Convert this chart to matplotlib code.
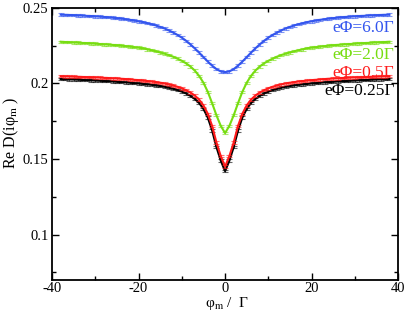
import matplotlib
matplotlib.use("Agg")
import matplotlib.pyplot as plt
from matplotlib.ticker import MultipleLocator

plt.rcParams['font.family'] = ['Liberation Serif', 'DejaVu Serif']
plt.rcParams['mathtext.fontset'] = 'stix'
plt.rcParams['axes.unicode_minus'] = False

x = list(range(-38, 39))

blue = [0.2455, 0.2454, 0.2453, 0.2452, 0.2450, 0.2449, 0.2447, 0.2446, 0.2444, 0.2442,
        0.2440, 0.2438, 0.2435, 0.2432, 0.2429, 0.2425, 0.2421, 0.2416, 0.2411, 0.2406,
        0.2399, 0.2392, 0.2384, 0.2374, 0.2364, 0.2351, 0.2337, 0.2321, 0.2303, 0.2282,
        0.2258, 0.2232, 0.2204, 0.2174, 0.2145, 0.2118, 0.2095, 0.2080, 0.2075,
        0.2080, 0.2095, 0.2118, 0.2145, 0.2174, 0.2204, 0.2232, 0.2258, 0.2282, 0.2303,
        0.2321, 0.2337, 0.2351, 0.2364, 0.2374, 0.2384, 0.2392, 0.2399, 0.2406, 0.2411,
        0.2416, 0.2421, 0.2425, 0.2429, 0.2432, 0.2435, 0.2438, 0.2440, 0.2442, 0.2444,
        0.2446, 0.2447, 0.2449, 0.2450, 0.2452, 0.2453, 0.2454, 0.2455]

green = [0.2276, 0.2274, 0.2273, 0.2271, 0.2270, 0.2268, 0.2267, 0.2265, 0.2263, 0.2261,
         0.2259, 0.2257, 0.2255, 0.2253, 0.2250, 0.2247, 0.2244, 0.2240, 0.2237, 0.2233,
         0.2226, 0.2220, 0.2213, 0.2205, 0.2197, 0.2188, 0.2177, 0.2164, 0.2150, 0.2133,
         0.2112, 0.2085, 0.2050, 0.2005, 0.1945, 0.1870, 0.1790, 0.1720, 0.1672,
         0.1720, 0.1790, 0.1870, 0.1945, 0.2005, 0.2050, 0.2085, 0.2112, 0.2133, 0.2150,
         0.2164, 0.2177, 0.2188, 0.2197, 0.2205, 0.2213, 0.2220, 0.2226, 0.2233, 0.2237,
         0.2240, 0.2244, 0.2247, 0.2250, 0.2253, 0.2255, 0.2257, 0.2259, 0.2261, 0.2263,
         0.2265, 0.2267, 0.2268, 0.2270, 0.2271, 0.2273, 0.2274, 0.2276]

red = [0.2048, 0.2047, 0.2046, 0.2045, 0.2044, 0.2043, 0.2042, 0.2041, 0.2040, 0.2039,
       0.2037, 0.2036, 0.2034, 0.2033, 0.2031, 0.2029, 0.2027, 0.2024, 0.2022, 0.2019,
       0.2016, 0.2013, 0.2009, 0.2005, 0.2000, 0.1994, 0.1987, 0.1978, 0.1968, 0.1955,
       0.1940, 0.1920, 0.1893, 0.1855, 0.1800, 0.1720, 0.1610, 0.1520, 0.1450,
       0.1520, 0.1610, 0.1720, 0.1800, 0.1855, 0.1893, 0.1920, 0.1940, 0.1955, 0.1968,
       0.1978, 0.1987, 0.1994, 0.2000, 0.2005, 0.2009, 0.2013, 0.2016, 0.2019, 0.2022,
       0.2024, 0.2027, 0.2029, 0.2031, 0.2033, 0.2034, 0.2036, 0.2037, 0.2039, 0.2040,
       0.2041, 0.2042, 0.2043, 0.2044, 0.2045, 0.2046, 0.2047, 0.2048]

black = [0.2029, 0.2028, 0.2027, 0.2026, 0.2025, 0.2023, 0.2022, 0.2021, 0.2019, 0.2018,
         0.2016, 0.2015, 0.2013, 0.2011, 0.2009, 0.2007, 0.2005, 0.2002, 0.2000, 0.1997,
         0.1994, 0.1991, 0.1987, 0.1983, 0.1978, 0.1972, 0.1965, 0.1956, 0.1946, 0.1934,
         0.1918, 0.1898, 0.1871, 0.1832, 0.1775, 0.1690, 0.1580, 0.1490, 0.1420,
         0.1490, 0.1580, 0.1690, 0.1775, 0.1832, 0.1871, 0.1898, 0.1918, 0.1934, 0.1946,
         0.1956, 0.1965, 0.1972, 0.1978, 0.1983, 0.1987, 0.1991, 0.1994, 0.1997, 0.2000,
         0.2002, 0.2005, 0.2007, 0.2009, 0.2011, 0.2013, 0.2015, 0.2016, 0.2018, 0.2019,
         0.2021, 0.2022, 0.2023, 0.2025, 0.2026, 0.2027, 0.2028, 0.2029]

yerr = 0.0008

series = [
    (black, 'black', 'eΦ=0.25Γ', 0.1953),
    (red, '#ff1a1a', 'eΦ=0.5Γ', 0.2067),
    (green, '#77dd11', 'eΦ=2.0Γ', 0.2190),
    (blue, '#3355ee', 'eΦ=6.0Γ', 0.2365),
]

fig = plt.figure(figsize=(4.07, 3.15), dpi=100)
ax = fig.add_axes([0.128, 0.111, 0.850, 0.864])

for vals, col, lab, ty in series:
    ax.errorbar(x, vals, yerr=yerr, fmt='none', ecolor=col, elinewidth=0.8,
                capsize=2.0, capthick=0.8, alpha=0.6)
    ax.plot(x, vals, color=col, lw=1.5)
    ax.text(39.2, ty, lab, color=col, fontsize=12.5, ha='right', va='center')

ax.set_xlim(-40, 40)
ax.set_ylim(0.07, 0.25)
ax.xaxis.set_major_locator(MultipleLocator(20))
ax.xaxis.set_minor_locator(MultipleLocator(10))
ax.yaxis.set_minor_locator(MultipleLocator(0.025))
ax.set_yticks([0.1, 0.15, 0.2, 0.25])
ax.set_yticklabels(['0.1', '0.15', '0.2', '0.25'])
ax.tick_params(which='both', direction='in', top=True, right=True, labelsize=10.5, width=1.0)
ax.tick_params(which='major', length=5)
ax.tick_params(which='minor', length=3)
ax.tick_params(axis='x', pad=1.5)
ax.tick_params(axis='y', pad=2.5)
for s in ax.spines.values():
    s.set_linewidth(1.3)

fig.text(227 / 407, 1 - 307 / 315, 'φ$_\\mathrm{m}$ /  Γ', fontsize=11, ha='center', va='baseline')
fig.text(11 / 407, 1 - 133 / 315, 'Re D(iφ$_\\mathrm{m}$ )', fontsize=11.5, ha='center', va='center',
         rotation=90)

fig.savefig('out.png', dpi=100)
